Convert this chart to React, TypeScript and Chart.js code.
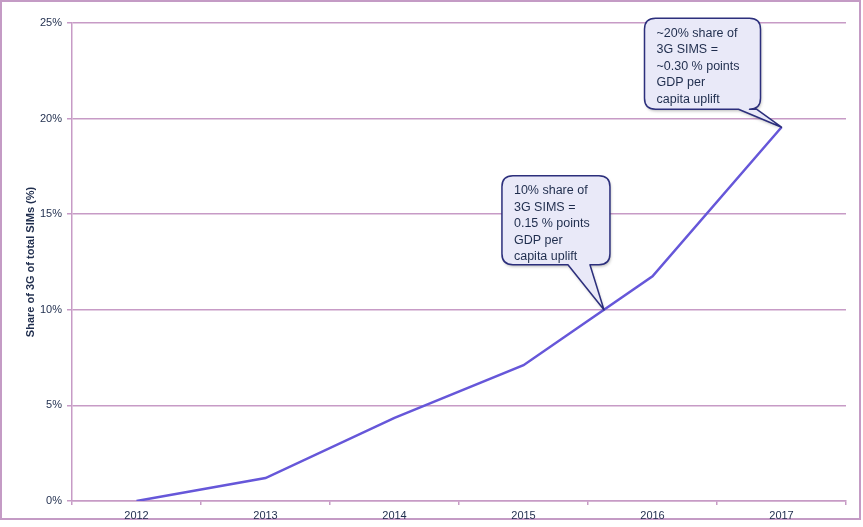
import React, { useEffect, useRef } from "react";
import { Chart, registerables } from "chart.js";

Chart.register(...registerables);

const years = ["2012", "2013", "2014", "2015", "2016", "2017"];
const share3G = [0, 1.2, 4.35, 7.1, 11.75, 19.55];
const yTicks = [0, 5, 10, 15, 20, 25];
const callout10 = ["10% share of", "3G SIMS =", "0.15 % points", "GDP per", "capita uplift"];
const callout20 = ["~20% share of", "3G SIMS =", "~0.30 % points", "GDP per", "capita uplift"];

const GRID = "#c79bc6";
const TEXT = "#1f2d4d";
const LINE = "#6657d9";
const FONT = "'Liberation Sans', Arial, sans-serif";

function drawCallout(ctx: CanvasRenderingContext2D, lines: string[], bx: number, by: number, bw: number, bh: number, t1: number, t2: number, ax: number, ay: number) {
  const r = 11;
  ctx.save();
  ctx.beginPath();
  ctx.moveTo(bx + r, by);
  ctx.lineTo(bx + bw - r, by);
  ctx.quadraticCurveTo(bx + bw, by, bx + bw, by + r);
  ctx.lineTo(bx + bw, by + bh - r);
  ctx.quadraticCurveTo(bx + bw, by + bh, bx + bw - r, by + bh);
  ctx.lineTo(bx + t2, by + bh);
  ctx.lineTo(ax, ay);
  ctx.lineTo(bx + t1, by + bh);
  ctx.lineTo(bx + r, by + bh);
  ctx.quadraticCurveTo(bx, by + bh, bx, by + bh - r);
  ctx.lineTo(bx, by + r);
  ctx.quadraticCurveTo(bx, by, bx + r, by);
  ctx.closePath();
  ctx.shadowColor = "rgba(0,0,0,0.25)";
  ctx.shadowBlur = 3;
  ctx.shadowOffsetX = 1;
  ctx.shadowOffsetY = 2;
  ctx.fillStyle = "#e9e9f8";
  ctx.fill();
  ctx.shadowColor = "transparent";
  ctx.strokeStyle = "#2c2f7c";
  ctx.lineWidth = 1.5;
  ctx.lineJoin = "round";
  ctx.stroke();
  ctx.fillStyle = TEXT;
  ctx.font = "12.5px " + FONT;
  ctx.textBaseline = "middle";
  ctx.textAlign = "left";
  lines.forEach((l, i) => ctx.fillText(l, bx + 12, by + 15 + i * 16.5));
  ctx.restore();
}

const calloutPlugin = {
  id: "callouts",
  afterDatasetsDraw(chart: any) {
    const ctx = chart.ctx;
    const meta = chart.getDatasetMeta(0);
    const yScale = chart.scales.y;
    const p3 = meta.data[3];
    const p4 = meta.data[4];
    const y10 = yScale.getPixelForValue(10);
    const f = (share3G[3] - 10) / (share3G[3] - share3G[4]);
    const a1x = p3.x + (p4.x - p3.x) * f;
    const a1y = y10;
    drawCallout(ctx, callout10, a1x - 102, a1y - 134, 108, 89, 66, 88, a1x, a1y);
    const p5 = meta.data[5];
    drawCallout(ctx, callout20, p5.x - 137, p5.y - 109, 116, 91, 94, 112, p5.x, p5.y);
  },
};

export default function App() {
  const ref = useRef<HTMLCanvasElement>(null);
  useEffect(() => {
    document.body.style.margin = "0";
    const chart = new Chart(ref.current!, {
      type: "line",
      data: {
        labels: years,
        datasets: [
          {
            data: share3G,
            borderColor: LINE,
            borderWidth: 2.5,
            pointRadius: 0,
            tension: 0,
            fill: false,
          },
        ],
      },
      options: {
        animation: false,
        responsive: false,
        layout: { padding: { left: 24, right: 17, top: 23, bottom: 0 } },
        plugins: { legend: { display: false }, tooltip: { enabled: false } },
        scales: {
          x: {
            offset: true,
            grid: { offset: true, drawOnChartArea: false, drawTicks: true, tickLength: 4, color: GRID, lineWidth: 1.5 },
            border: { color: GRID, width: 1.5 },
            ticks: { color: TEXT, font: { family: FONT, size: 11 }, padding: 4, maxRotation: 0 },
            afterFit: (s: any) => { s.height = 26; },
          },
          y: {
            min: 0,
            max: 25,
            afterBuildTicks: (s: any) => { s.ticks = yTicks.map((v) => ({ value: v })); },
            grid: { color: GRID, lineWidth: 1.5, tickLength: 5 },
            border: { color: GRID, width: 1.5 },
            ticks: { color: TEXT, font: { family: FONT, size: 11 }, padding: 5, callback: (v: any) => v + "%" },
            title: { display: true, text: "Share of 3G of total SIMs (%)", color: TEXT, font: { family: FONT, size: 11, weight: "bold" }, padding: 0 },
            afterFit: (s: any) => { s.width = 48; },
          },
        },
      },
      plugins: [calloutPlugin],
    });
    return () => chart.destroy();
  }, []);
  return (
    <div style={{ position: "relative", width: 863, height: 527 }}>
      <div style={{ position: "absolute", left: 0, top: 0, width: 857, height: 516, border: "2px solid #c49bc5" }} />
      <canvas ref={ref} width={863} height={527} style={{ position: "absolute", left: 0, top: 0 }} />
    </div>
  );
}
